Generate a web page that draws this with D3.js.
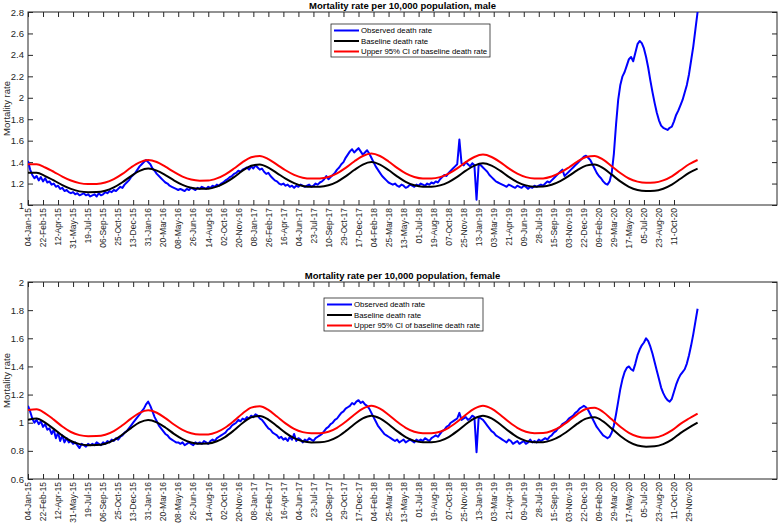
<!DOCTYPE html>
<html><head><meta charset="utf-8">
<script src="https://cdn.jsdelivr.net/npm/d3@7"></script>
<style>body{margin:0;background:#fff;}svg{display:block;font-family:"Liberation Sans",Arial,sans-serif;}</style>
</head><body><svg id="c" width="778" height="523"></svg>
<script>
const tickLabels = ["04-Jan-15","22-Feb-15","12-Apr-15","31-May-15","19-Jul-15","06-Sep-15","25-Oct-15","13-Dec-15","31-Jan-16","20-Mar-16","08-May-16","26-Jun-16","14-Aug-16","02-Oct-16","20-Nov-16","08-Jan-17","26-Feb-17","16-Apr-17","04-Jun-17","23-Jul-17","10-Sep-17","29-Oct-17","17-Dec-17","04-Feb-18","25-Mar-18","13-May-18","01-Jul-18","19-Aug-18","07-Oct-18","25-Nov-18","13-Jan-19","03-Mar-19","21-Apr-19","09-Jun-19","28-Jul-19","15-Sep-19","03-Nov-19","22-Dec-19","09-Feb-20","29-Mar-20","17-May-20","05-Jul-20","23-Aug-20","11-Oct-20","29-Nov-20"];
const seriesNames = ["Observed death rate","Baseline death rate","Upper 95% CI of baseline death rate"];
const seriesColors = ["#0000ff","#000000","#ff0000"];

// weekly observed (week 0 = 04-Jan-15)
const maleObserved = [
1.41,1.33,1.28,1.25,1.27,1.23,1.26,1.22,1.25,1.21,
1.22,1.19,1.20,1.17,1.18,1.15,1.16,1.13,1.14,1.12,
1.11,1.12,1.10,1.11,1.09,1.10,1.11,1.09,1.10,1.08,
1.09,1.10,1.08,1.11,1.09,1.10,1.12,1.11,1.13,1.12,
1.14,1.13,1.15,1.17,1.16,1.19,1.21,1.23,1.26,1.28,
1.30,1.33,1.36,1.38,1.40,1.42,1.40,1.38,1.34,1.32,
1.29,1.27,1.25,1.23,1.21,1.20,1.18,1.17,1.16,1.15,
1.14,1.15,1.14,1.13,1.15,1.14,1.16,1.15,1.14,1.16,
1.15,1.17,1.16,1.15,1.17,1.16,1.18,1.17,1.19,1.18,
1.20,1.21,1.23,1.24,1.26,1.27,1.29,1.30,1.32,1.31,
1.33,1.34,1.35,1.33,1.36,1.34,1.37,1.35,1.33,1.34,
1.31,1.29,1.30,1.27,1.25,1.23,1.22,1.20,1.19,1.20,
1.18,1.19,1.17,1.18,1.16,1.18,1.17,1.19,1.18,1.17,
1.18,1.19,1.17,1.18,1.20,1.19,1.21,1.22,1.24,1.27,
1.24,1.26,1.28,1.30,1.33,1.35,1.38,1.40,1.44,1.47,
1.50,1.52,1.49,1.51,1.53,1.50,1.47,1.49,1.51,1.48,
1.44,1.40,1.36,1.33,1.30,1.27,1.25,1.23,1.21,1.20,
1.19,1.20,1.18,1.17,1.19,1.18,1.16,1.17,1.19,1.18,
1.17,1.19,1.18,1.20,1.19,1.18,1.20,1.19,1.21,1.20,
1.22,1.21,1.24,1.26,1.28,1.27,1.30,1.32,1.34,1.36,
1.38,1.61,1.39,1.37,1.40,1.38,1.36,1.39,1.37,1.05,
1.38,1.37,1.35,1.33,1.31,1.28,1.26,1.24,1.22,1.21,
1.20,1.19,1.18,1.17,1.19,1.18,1.17,1.16,1.18,1.17,
1.16,1.18,1.17,1.15,1.17,1.16,1.18,1.17,1.18,1.19,
1.18,1.20,1.22,1.21,1.23,1.25,1.27,1.29,1.31,1.33,
1.27,1.29,1.31,1.33,1.35,1.37,1.39,1.41,1.43,1.45,
1.46,1.44,1.42,1.38,1.34,1.30,1.27,1.25,1.22,1.20,
1.19,1.22,1.30,1.48,1.75,1.98,2.12,2.20,2.24,2.30,
2.36,2.38,2.34,2.42,2.50,2.53,2.51,2.46,2.38,2.28,
2.16,2.05,1.95,1.86,1.79,1.74,1.72,1.71,1.70,1.72,
1.73,1.78,1.84,1.88,1.93,1.98,2.05,2.12,2.22,2.35,2.48,2.64,2.80];

const femaleObserved = [
1.12,1.08,1.03,1.00,1.02,0.99,1.01,0.97,0.99,0.95,
0.96,0.92,0.95,0.89,0.93,0.87,0.91,0.86,0.89,0.86,
0.87,0.85,0.86,0.84,0.82,0.85,0.84,0.83,0.85,0.84,
0.85,0.84,0.86,0.85,0.84,0.86,0.85,0.87,0.86,0.88,
0.87,0.89,0.88,0.90,0.91,0.93,0.94,0.96,0.98,1.00,
1.02,1.04,1.06,1.08,1.10,1.13,1.15,1.12,1.08,1.04,
1.01,0.98,0.96,0.94,0.92,0.91,0.89,0.88,0.87,0.86,
0.86,0.85,0.86,0.84,0.85,0.86,0.85,0.84,0.86,0.85,
0.86,0.85,0.87,0.86,0.85,0.87,0.88,0.87,0.89,0.90,
0.91,0.92,0.93,0.95,0.96,0.98,0.99,1.00,1.02,1.01,
1.03,1.02,1.04,1.03,1.05,1.04,1.06,1.05,1.03,1.02,
1.00,0.98,0.96,0.95,0.93,0.92,0.91,0.89,0.90,0.88,
0.89,0.87,0.90,0.88,0.92,0.87,0.89,0.88,0.86,0.88,
0.87,0.89,0.88,0.87,0.89,0.90,0.91,0.92,0.94,0.96,
0.97,0.99,1.00,1.02,1.03,1.05,1.07,1.08,1.10,1.11,
1.12,1.14,1.13,1.15,1.16,1.14,1.15,1.13,1.12,1.10,
1.07,1.04,1.01,0.98,0.96,0.94,0.92,0.91,0.90,0.89,
0.88,0.87,0.88,0.86,0.87,0.88,0.86,0.87,0.88,0.87,
0.86,0.88,0.87,0.88,0.87,0.89,0.88,0.87,0.89,0.90,
0.91,0.90,0.92,0.94,0.95,0.97,0.98,1.00,1.01,1.02,
1.03,1.07,1.02,1.03,1.04,1.02,1.03,1.05,1.04,0.79,
1.04,1.03,1.02,1.00,0.98,0.96,0.94,0.93,0.91,0.90,
0.89,0.88,0.87,0.86,0.88,0.87,0.85,0.86,0.87,0.85,
0.86,0.87,0.85,0.86,0.88,0.86,0.87,0.86,0.88,0.87,
0.88,0.89,0.88,0.90,0.91,0.93,0.94,0.96,0.97,0.99,
1.00,1.01,1.03,1.04,1.05,1.07,1.08,1.10,1.11,1.12,
1.11,1.09,1.06,1.03,1.00,0.97,0.95,0.93,0.91,0.90,
0.89,0.90,0.93,0.98,1.06,1.15,1.24,1.31,1.36,1.39,
1.40,1.38,1.37,1.42,1.48,1.52,1.55,1.57,1.60,1.58,
1.54,1.49,1.43,1.37,1.31,1.25,1.21,1.18,1.16,1.15,
1.17,1.22,1.27,1.31,1.34,1.36,1.38,1.42,1.48,1.55,1.63,1.72,1.81];

// baseline and upper CI, sampled every 4 weeks (weeks 0,4,...,312)
const maleBaseline = [
1.30,1.30,1.27,1.23,1.185,1.15,1.127,1.12,
1.121,1.133,1.164,1.212,1.27,1.318,1.34,1.321,
1.279,1.23,1.188,1.161,1.151,1.152,1.171,1.208,
1.26,1.32,1.366,1.378,1.348,1.298,1.246,1.204,
1.178,1.17,1.171,1.184,1.216,1.267,1.326,1.377,
1.40,1.377,1.326,1.267,1.216,1.184,1.171,1.171,
1.183,1.214,1.262,1.32,1.368,1.39,1.368,1.32,
1.262,1.214,1.183,1.171,1.172,1.189,1.223,1.271,
1.325,1.367,1.378,1.343,1.283,1.22,1.17,1.14,
1.13,1.132,1.152,1.19,1.245,1.30,1.34];
const maleUpper = [
1.38,1.38,1.35,1.31,1.265,1.228,1.204,1.196,
1.197,1.21,1.242,1.29,1.35,1.398,1.42,1.401,
1.358,1.308,1.265,1.237,1.227,1.228,1.248,1.286,
1.34,1.40,1.446,1.458,1.428,1.377,1.324,1.281,
1.254,1.246,1.247,1.261,1.294,1.346,1.406,1.457,
1.48,1.457,1.406,1.346,1.294,1.261,1.247,1.247,
1.26,1.292,1.341,1.40,1.448,1.47,1.448,1.40,
1.341,1.292,1.26,1.247,1.248,1.266,1.301,1.35,
1.405,1.447,1.458,1.423,1.362,1.298,1.247,1.218,
1.207,1.21,1.23,1.268,1.324,1.38,1.42];
const femaleBaseline = [
1.02,1.03,1.00,0.956,0.908,0.870,0.848,0.84,
0.841,0.851,0.876,0.916,0.962,1.002,1.02,1.003,
0.966,0.921,0.884,0.860,0.851,0.852,0.868,0.90,
0.946,0.998,1.038,1.048,1.022,0.976,0.928,0.89,
0.868,0.86,0.861,0.871,0.898,0.94,0.989,1.031,
1.05,1.031,0.989,0.94,0.898,0.871,0.861,0.861,
0.871,0.898,0.94,0.989,1.031,1.05,1.031,0.989,
0.94,0.898,0.871,0.861,0.862,0.876,0.905,0.946,
0.993,1.029,1.038,1.009,0.958,0.906,0.864,0.838,
0.83,0.832,0.848,0.88,0.926,0.965,1.00];
const femaleUpper = [
1.09,1.095,1.067,1.022,0.973,0.934,0.912,0.904,
0.905,0.915,0.941,0.982,1.029,1.07,1.088,1.071,
1.033,0.987,0.949,0.925,0.916,0.917,0.933,0.966,
1.013,1.066,1.107,1.117,1.091,1.044,0.995,0.956,
0.933,0.925,0.926,0.936,0.964,1.007,1.057,1.10,
1.12,1.10,1.057,1.007,0.964,0.936,0.926,0.926,
0.936,0.964,1.007,1.057,1.10,1.12,1.10,1.057,
1.007,0.964,0.936,0.926,0.927,0.941,0.971,1.013,
1.061,1.098,1.106,1.076,1.024,0.971,0.928,0.902,
0.893,0.895,0.912,0.945,0.992,1.03,1.065];

const maleYTicks = [1,1.2,1.4,1.6,1.8,2,2.2,2.4,2.6,2.8];
const femaleYTicks = [0.6,0.8,1,1.2,1.4,1.6,1.8,2];

const svg = d3.select("#c");
const X0 = 28, X1 = 777;
const x = d3.scaleLinear().domain([0, 349]).range([X0, X1]);

function panel(cfg){
  const {top, bottom, yDomain, yTicks, title, obs, base, upper, nLabels, legend, id} = cfg;
  const y = d3.scaleLinear().domain(yDomain).range([bottom, top]);
  const g = svg.append("g");
  g.append("clipPath").attr("id", id).append("rect")
    .attr("x", X0).attr("y", top).attr("width", X1 - X0).attr("height", bottom - top);
  const tickWeeks = d3.range(nLabels).map(i => i * 7);
  const axCol = "#262626";
  // bottom axis
  const xb = d3.axisBottom(x).tickValues(tickWeeks).tickFormat((d,i)=>tickLabels[i]).tickSizeInner(-5).tickSizeOuter(0);
  const gx = g.append("g").attr("transform", `translate(0,${bottom})`).call(xb);
  gx.select(".domain").remove();
  gx.selectAll("line").attr("stroke", axCol);
  gx.selectAll("text").attr("transform", "rotate(-90)").attr("text-anchor", "end")
    .attr("x", -3).attr("y", 0).attr("dy", "0.32em").attr("fill", axCol)
    .style("font-size", "8.5px").style("font-family", '"Liberation Sans",Arial,sans-serif');
  // top ticks
  const xt = d3.axisTop(x).tickValues(tickWeeks).tickFormat("").tickSizeInner(-5).tickSizeOuter(0);
  const gxt = g.append("g").attr("transform", `translate(0,${top})`).call(xt);
  gxt.select(".domain").remove(); gxt.selectAll("line").attr("stroke", axCol);
  // left axis
  const yl = d3.axisLeft(y).tickValues(yTicks).tickFormat(d3.format("~g")).tickSizeInner(-5).tickSizeOuter(0);
  const gy = g.append("g").attr("transform", `translate(${X0},0)`).call(yl);
  gy.select(".domain").remove(); gy.selectAll("line").attr("stroke", axCol);
  gy.selectAll("text").attr("x", -4).attr("fill", axCol)
    .style("font-size", "9.5px").style("font-family", '"Liberation Sans",Arial,sans-serif');
  const yr = d3.axisRight(y).tickValues(yTicks).tickFormat("").tickSizeInner(-5).tickSizeOuter(0);
  const gyr = g.append("g").attr("transform", `translate(${X1},0)`).call(yr);
  gyr.select(".domain").remove(); gyr.selectAll("line").attr("stroke", axCol);
  // box
  g.append("rect").attr("x", X0).attr("y", top).attr("width", X1 - X0).attr("height", bottom - top)
    .attr("fill", "none").attr("stroke", axCol).attr("stroke-width", 1);
  // y label
  g.append("text").attr("transform", `translate(10,${(top+bottom)/2}) rotate(-90)`)
    .attr("text-anchor", "middle").attr("fill", axCol).style("font-size", "9.5px").text("Mortality rate");
  // title
  g.append("text").attr("x", (X0+X1)/2).attr("y", top - 3).attr("text-anchor", "middle")
    .attr("fill", "#000").style("font-size", "9.5px").style("font-weight", "bold").text(title);
  // lines
  const lines = g.append("g").attr("clip-path", `url(#${id})`);
  const lineObs = d3.line().x((d,i)=>x(i)).y(d=>y(d));
  const lineSm = d3.line().x((d,i)=>x(i*4)).y(d=>y(d)).curve(d3.curveMonotoneX);
  lines.append("path").datum(obs).attr("d", lineObs).attr("fill","none").attr("stroke", seriesColors[0]).attr("stroke-width", 2).attr("stroke-linejoin","round");
  lines.append("path").datum(base).attr("d", lineSm).attr("fill","none").attr("stroke", seriesColors[1]).attr("stroke-width", 2);
  lines.append("path").datum(upper).attr("d", lineSm).attr("fill","none").attr("stroke", seriesColors[2]).attr("stroke-width", 2);
  // legend
  const lg = g.append("g").attr("transform", `translate(${legend[0]},${legend[1]})`);
  lg.append("rect").attr("width", 159).attr("height", 33).attr("fill", "#fff").attr("stroke", axCol).attr("stroke-width", 0.8);
  seriesNames.forEach((s,i)=>{
    const yy = 6.5 + i * 10.5;
    lg.append("line").attr("x1", 3).attr("x2", 28).attr("y1", yy).attr("y2", yy).attr("stroke", seriesColors[i]).attr("stroke-width", 2);
    lg.append("text").attr("x", 30).attr("y", yy).attr("dy", "0.33em").attr("fill", "#000").style("font-size", "7.8px").text(s);
  });
}

panel({id:"clipM", top:12, bottom:205, yDomain:[1,2.8], yTicks:maleYTicks,
  title:"Mortality rate per 10,000 population, male", obs:maleObserved, base:maleBaseline, upper:maleUpper,
  nLabels:44, legend:[331,24]});
panel({id:"clipF", top:282, bottom:479, yDomain:[0.6,2], yTicks:femaleYTicks,
  title:"Mortality rate per 10,000 population, female", obs:femaleObserved, base:femaleBaseline, upper:femaleUpper,
  nLabels:45, legend:[324,298]});
</script></body></html>
